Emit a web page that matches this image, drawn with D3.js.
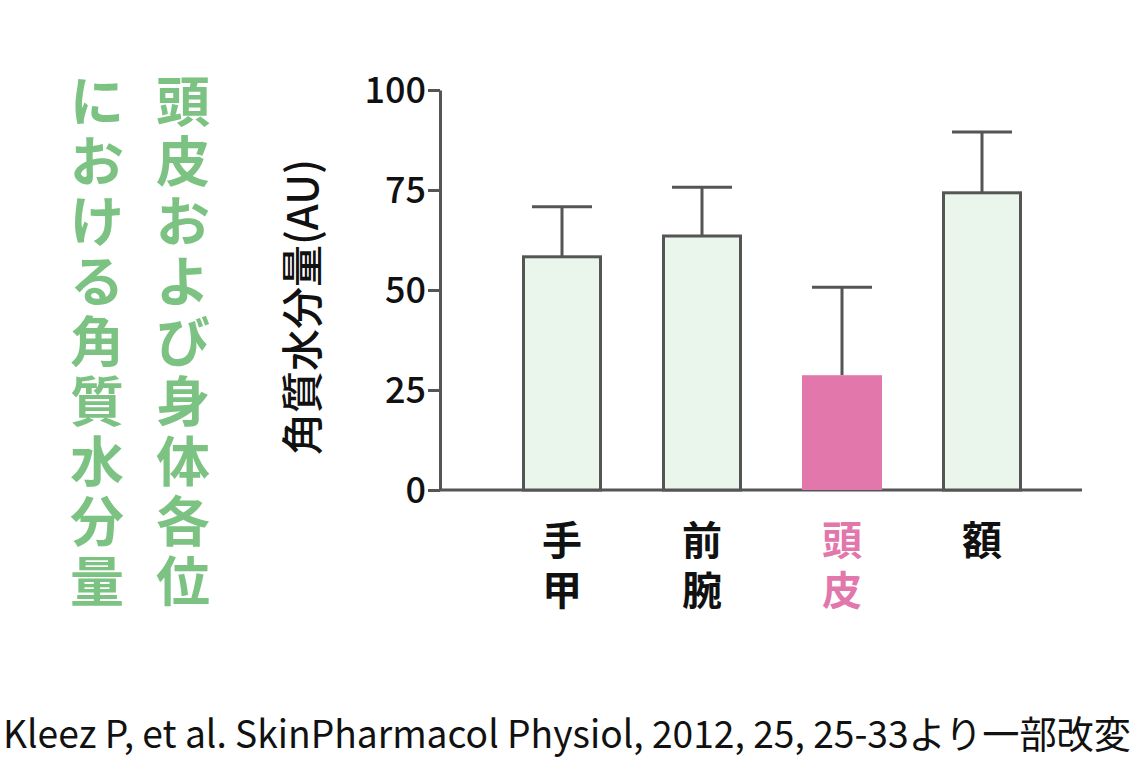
<!DOCTYPE html><html><head><meta charset="utf-8">
<script src="https://cdn.jsdelivr.net/npm/d3@7"></script>
<style>body{margin:0;background:#fff}svg{display:block}</style></head><body>
<svg id="c" width="1140" height="765"></svg>
<script>
const categories=[["手","甲"],["前","腕"],["頭","皮"],["額"]];
const values=[58.3,63.5,28.7,74.3];
const errTop=[70.8,75.7,50.7,89.5];
const highlight=[false,false,true,false];
const yTicks=[0,25,50,75,100];
const svg=d3.select("#c");
const font="'Noto Sans CJK JP','Noto Sans',sans-serif";
const x=d3.scaleBand().domain(d3.range(4)).range([492,1052]).paddingInner(0.4286).paddingOuter(0.2143);
const y=d3.scaleLinear().domain([0,100]).range([490,90]);
const pink="#e277ab",green="#7cc383";
const ya=svg.append("g").attr("transform","translate(440,0)").call(d3.axisLeft(y).tickValues(yTicks).tickSize(12).tickSizeOuter(0));
ya.select(".domain").attr("stroke","#555").attr("stroke-width",3);
ya.selectAll(".tick line").attr("stroke","#555").attr("stroke-width",3);
ya.selectAll("text").attr("font-size",36).attr("font-weight",500).attr("font-family",font).attr("fill","#111").attr("x",-14).attr("dy","0.35em");
svg.append("line").attr("x1",440).attr("x2",1082).attr("y1",y(0)).attr("y2",y(0)).attr("stroke","#555").attr("stroke-width",3);
const g=svg.append("g");
values.forEach((v,i)=>{
  const cx=x(i)+x.bandwidth()/2;
  g.append("line").attr("x1",cx).attr("x2",cx).attr("y1",y(v)).attr("y2",y(errTop[i])).attr("stroke","#555").attr("stroke-width",3);
  g.append("line").attr("x1",cx-30).attr("x2",cx+30).attr("y1",y(errTop[i])).attr("y2",y(errTop[i])).attr("stroke","#555").attr("stroke-width",3);
  if(highlight[i]) g.append("rect").attr("x",x(i)).attr("y",y(v)).attr("width",x.bandwidth()).attr("height",y(0)-y(v)).attr("fill",pink);
  else g.append("rect").attr("x",x(i)+1.5).attr("y",y(v)).attr("width",x.bandwidth()-3).attr("height",y(0)-y(v)).attr("fill","#eaf5ec").attr("stroke","#555").attr("stroke-width",3);
  categories[i].forEach((ch,j)=>{
    svg.append("text").attr("x",cx).attr("y",555+j*50).attr("text-anchor","middle").attr("font-size",40).attr("font-weight",700)
      .attr("font-family",font).attr("fill",highlight[i]?pink:"#111").text(ch);
  });
});
svg.append("text").attr("transform","translate(318,307) rotate(-90)").attr("text-anchor","middle").attr("font-size",42).attr("font-weight",500)
  .attr("font-family",font).attr("fill","#111").text("角質水分量(AU)");
[["頭皮および身体各位",183],["における角質水分量",97]].forEach(([t,cx])=>{
  [...t].forEach((ch,j)=>{
    svg.append("text").attr("x",cx).attr("y",122+j*60).attr("text-anchor","middle").attr("font-size",54).attr("font-weight","bold")
      .attr("font-family",font).attr("fill",green).text(ch);
  });
});
svg.append("text").attr("x",3).attr("y",748).attr("font-size",38).attr("font-family","'Noto Sans CJK JP',sans-serif")
  .attr("fill","#111").attr("textLength",1128).attr("lengthAdjust","spacingAndGlyphs").text("Kleez P, et al. SkinPharmacol Physiol, 2012, 25, 25-33より一部改変");
</script></body></html>
